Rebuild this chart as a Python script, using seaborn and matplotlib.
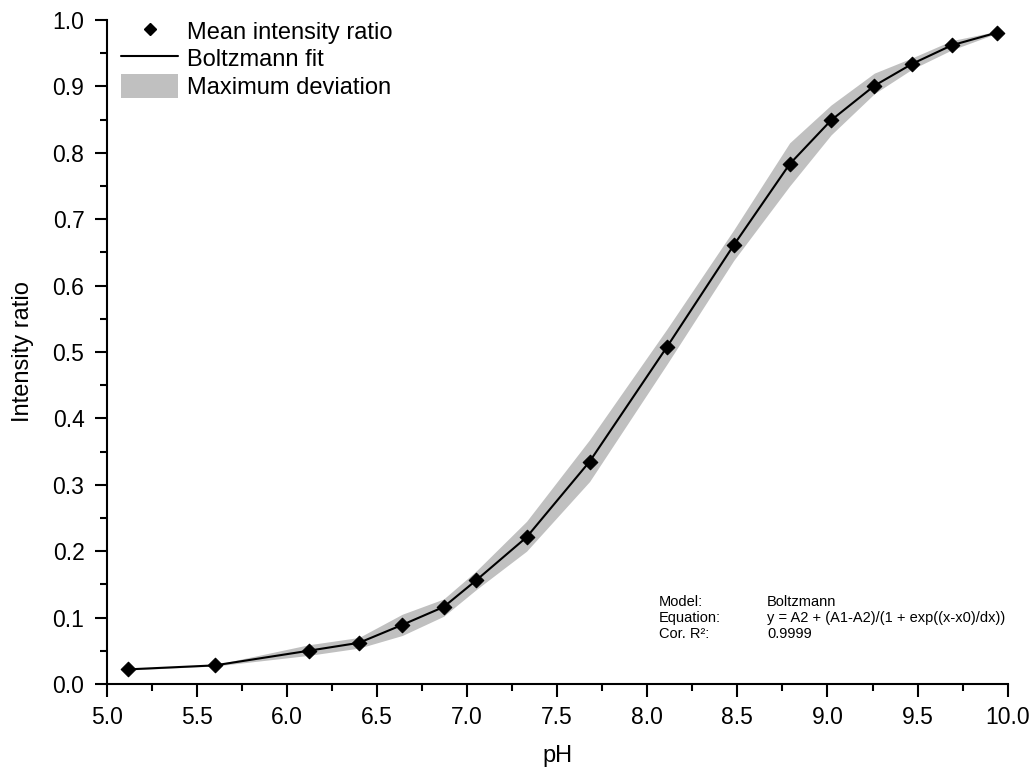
import matplotlib
matplotlib.use('Agg')
import matplotlib.pyplot as plt
from matplotlib.lines import Line2D
from matplotlib.patches import Patch
from matplotlib.ticker import MultipleLocator, FormatStrFormatter
import seaborn as sns
import pandas as pd

sns.set_style("ticks", {'axes.edgecolor': 'black', 'text.color': 'black',
                        'axes.labelcolor': 'black', 'xtick.color': 'black',
                        'ytick.color': 'black'})
plt.rcParams['font.family'] = ['Liberation Sans', 'DejaVu Sans']

# mean intensity ratio per pH step
ph = [5.12, 5.60, 6.12, 6.40, 6.64, 6.87, 7.05, 7.33, 7.68, 8.11,
      8.48, 8.79, 9.02, 9.26, 9.47, 9.69, 9.94]
ratio = [0.022, 0.028, 0.050, 0.062, 0.089, 0.116, 0.156, 0.221, 0.335, 0.508,
         0.661, 0.783, 0.849, 0.901, 0.934, 0.962, 0.981]
# maximum deviation band (upper / lower edge)
upper = [0.022, 0.029, 0.059, 0.070, 0.105, 0.128, 0.170, 0.245, 0.368, 0.535,
         0.684, 0.815, 0.872, 0.920, 0.943, 0.969, 0.983]
lower = [0.021, 0.027, 0.043, 0.054, 0.073, 0.102, 0.142, 0.200, 0.305, 0.482,
         0.638, 0.750, 0.827, 0.889, 0.926, 0.955, 0.980]

fit_info = [("Model:", "Boltzmann"),
            ("Equation:", "y = A2 + (A1-A2)/(1 + exp((x-x0)/dx))"),
            ("Cor. R\u00b2:", "0.9999")]

df = pd.DataFrame({'pH': ph, 'ratio': ratio, 'upper': upper, 'lower': lower})

fig = plt.figure(figsize=(10.35, 7.76), dpi=100)
ax = fig.add_axes([0.1031, 0.1186, 0.8705, 0.8556])

ax.fill_between(df['pH'], df['lower'], df['upper'], color='#c0c0c0', linewidth=0, zorder=1)
sns.lineplot(data=df, x='pH', y='ratio', color='black', linewidth=1.5, ax=ax, zorder=2)
sns.scatterplot(data=df, x='pH', y='ratio', marker='D', s=55, color='black',
                edgecolor='black', linewidth=0.8, ax=ax, zorder=3)

ax.set_xlim(5.0, 10.0)
ax.set_ylim(0.0, 1.0)
ax.xaxis.set_major_locator(MultipleLocator(0.5))
ax.xaxis.set_minor_locator(MultipleLocator(0.25))
ax.yaxis.set_major_locator(MultipleLocator(0.1))
ax.yaxis.set_minor_locator(MultipleLocator(0.05))
ax.xaxis.set_major_formatter(FormatStrFormatter('%.1f'))
ax.yaxis.set_major_formatter(FormatStrFormatter('%.1f'))
ax.tick_params(which='major', direction='out', length=9, width=1.5, labelsize=16.5,
               pad=7, colors='black')
ax.tick_params(which='minor', direction='out', length=5, width=1.5, colors='black')

sns.despine(ax=ax)
for side in ['left', 'bottom']:
    ax.spines[side].set_linewidth(1.5)
    ax.spines[side].set_color('black')

ax.set_xlabel('pH', fontsize=17, color='black')
ax.set_ylabel('Intensity ratio', fontsize=17, color='black')
ax.xaxis.set_label_coords(0.5, -0.092)
ax.yaxis.set_label_coords(-0.081, 0.5)

handles = [
    Line2D([], [], marker='D', linestyle='none', color='black', markersize=6),
    Line2D([], [], color='black', linewidth=1.5),
    Patch(facecolor='#c0c0c0', edgecolor='none'),
]
labels = ['Mean intensity ratio', 'Boltzmann fit', 'Maximum deviation']
leg = ax.legend(handles, labels, loc='upper left', bbox_to_anchor=(0.0159, 1.002),
                frameon=False, fontsize=17, borderpad=0, borderaxespad=0,
                handlelength=2.43, handleheight=1.2, labelspacing=0.1, handletextpad=0.36)
for t in leg.get_texts():
    t.set_color('black')

y0 = 1 - 601.7 / 776
for i, (key, val) in enumerate(fit_info):
    y = y0 - i * 16 / 776
    fig.text(659 / 1035, y, key, fontsize=10.5, va='center', ha='left', color='black')
    fig.text(767 / 1035, y, val, fontsize=10.5, va='center', ha='left', color='black')

fig.savefig('out.png', dpi=100)
